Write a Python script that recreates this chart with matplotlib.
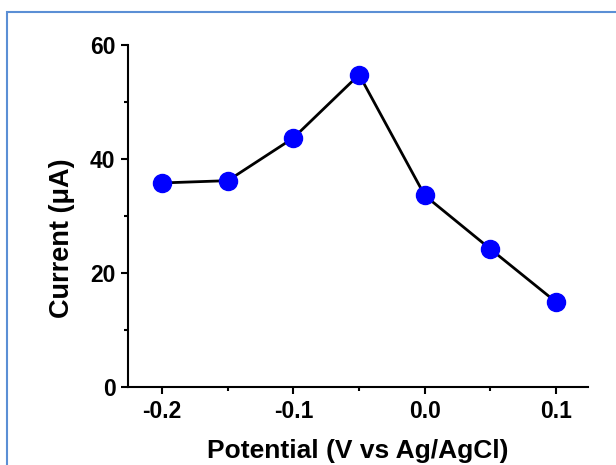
import matplotlib.pyplot as plt
from matplotlib.patches import Rectangle
from matplotlib.ticker import MultipleLocator

potential = [-0.2, -0.15, -0.1, -0.05, 0.0, 0.05, 0.1]
current = [35.8, 36.2, 43.7, 54.8, 33.6, 24.2, 14.9]

plt.rcParams["font.family"] = ["Liberation Sans", "DejaVu Sans"]
plt.rcParams["font.weight"] = "bold"

fig = plt.figure(figsize=(6.16, 4.65), dpi=100)
ax = fig.add_axes([128 / 616, 1 - 387 / 465, 460 / 616, 342 / 465])

ax.plot(potential, current, color="black", lw=2, marker="o", ms=13,
        mfc="#0000ff", mec="#0000ff", zorder=3)

ax.set_xlim(-0.226, 0.1243)
ax.set_ylim(0, 60)
ax.xaxis.set_minor_locator(MultipleLocator(0.05))
ax.yaxis.set_minor_locator(MultipleLocator(10))
ax.set_xticks([-0.2, -0.1, 0.0, 0.1])
ax.set_xticklabels(["-0.2", "-0.1", "0.0", "0.1"])
ax.set_yticks([0, 20, 40, 60])
ax.set_yticklabels(["0", "20", "40", "60"])

for s in ["top", "right"]:
    ax.spines[s].set_visible(False)
for s in ["left", "bottom"]:
    ax.spines[s].set_linewidth(1.5)

ax.tick_params(which="major", direction="out", length=5, width=1.5,
               labelsize=16.5, pad=4)
ax.tick_params(which="minor", direction="out", length=3, width=1.5)
for lab in ax.get_xticklabels() + ax.get_yticklabels():
    lab.set_fontweight("bold")

ax.set_xlabel("Potential (V vs Ag/AgCl)", fontsize=19, fontweight="bold", labelpad=12)
ax.set_ylabel("Current (μA)", fontsize=19.5, fontweight="bold")
ax.yaxis.set_label_coords(-0.115, 0.436)

fig.patches.append(Rectangle((7 / 616, -0.1), 1.2, 1 - 12 / 465 + 0.1,
                             transform=fig.transFigure, fill=False,
                             edgecolor="#5b8fd5", lw=1.5))

fig.savefig("out.png", dpi=100)
